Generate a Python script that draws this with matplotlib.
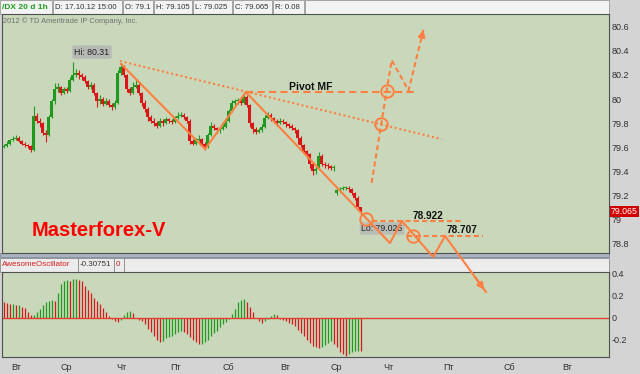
import matplotlib
matplotlib.use('Agg')
import matplotlib.pyplot as plt
from matplotlib.patches import Rectangle
import numpy as np

plt.rcParams['font.family'] = ['Liberation Sans', 'DejaVu Sans']

# ---- hourly candles (bar index = position in list) ----
first_open = 79.60
gap_opens = {111: 79.22}
closes = [
    79.61, 79.63, 79.66, 79.67, 79.68, 79.65, 79.63, 79.62, 79.61, 79.58,
    79.86, 79.82, 79.80, 79.72, 79.70, 79.85, 79.98, 80.08, 80.10, 80.05,
    80.08, 80.07, 80.16, 80.20, 80.22, 80.20, 80.18, 80.15, 80.10, 80.12,
    80.05, 79.98, 80.00, 79.96, 79.98, 79.95, 79.93, 79.97, 80.22, 80.27,
    80.20, 80.08, 80.05, 80.10, 80.12, 80.05, 79.97, 79.92, 79.85, 79.82,
    79.80, 79.78, 79.82, 79.80, 79.83, 79.82, 79.81, 79.84, 79.86, 79.87,
    79.85, 79.82, 79.65, 79.63, 79.66, 79.67, 79.63, 79.60, 79.70, 79.78,
    79.76, 79.74, 79.75, 79.77, 79.82, 79.90, 79.97, 79.98, 79.99, 79.97,
    80.02, 79.95, 79.80, 79.75, 79.73, 79.74, 79.77, 79.84, 79.87, 79.84,
    79.82, 79.80, 79.82, 79.81, 79.79, 79.78, 79.76, 79.74, 79.68, 79.62,
    79.57, 79.54, 79.46, 79.40, 79.42, 79.53, 79.46, 79.45, 79.44, 79.43,
    79.43, 79.24, 79.25, 79.26, 79.26, 79.25, 79.22, 79.18, 79.10, 79.065,
]
highs = [
    79.63, 79.65, 79.67, 79.69, 79.70, 79.69, 79.66, 79.64, 79.63, 79.62,
    79.94, 79.88, 79.84, 79.81, 79.74, 79.87, 80.00, 80.13, 80.13, 80.11,
    80.10, 80.10, 80.18, 80.31, 80.25, 80.24, 80.22, 80.20, 80.16, 80.14,
    80.13, 80.06, 80.03, 80.02, 80.01, 80.00, 79.97, 79.99, 80.24, 80.30,
    80.28, 80.21, 80.10, 80.14, 80.16, 80.14, 80.06, 79.99, 79.93, 79.87,
    79.84, 79.82, 79.84, 79.83, 79.85, 79.84, 79.83, 79.86, 79.89, 79.89,
    79.88, 79.86, 79.83, 79.67, 79.68, 79.70, 79.68, 79.64, 79.72, 79.81,
    79.79, 79.77, 79.77, 79.79, 79.84, 79.92, 79.99, 80.00, 80.01, 80.00,
    80.06, 80.03, 79.96, 79.81, 79.77, 79.76, 79.79, 79.87, 79.89, 79.88,
    79.85, 79.83, 79.84, 79.83, 79.82, 79.80, 79.79, 79.77, 79.75, 79.69,
    79.63, 79.58, 79.55, 79.47, 79.44, 79.56, 79.54, 79.48, 79.47, 79.45,
    79.45, 79.27, 79.27, 79.28, 79.28, 79.28, 79.26, 79.23, 79.19, 79.105,
]
lows = [
    79.59, 79.60, 79.62, 79.65, 79.66, 79.64, 79.62, 79.60, 79.59, 79.56,
    79.57, 79.80, 79.77, 79.70, 79.64, 79.69, 79.84, 79.96, 80.06, 80.03,
    80.04, 80.05, 80.06, 80.15, 80.18, 80.17, 80.16, 80.13, 80.08, 80.08,
    80.03, 79.93, 79.96, 79.94, 79.95, 79.93, 79.91, 79.92, 79.96, 80.20,
    80.18, 80.06, 80.03, 80.04, 80.09, 80.03, 79.94, 79.89, 79.82, 79.80,
    79.78, 79.76, 79.77, 79.78, 79.79, 79.80, 79.79, 79.80, 79.83, 79.85,
    79.83, 79.80, 79.63, 79.62, 79.62, 79.65, 79.61, 79.58, 79.59, 79.69,
    79.74, 79.72, 79.72, 79.74, 79.76, 79.81, 79.89, 79.95, 79.96, 79.95,
    79.96, 79.93, 79.77, 79.72, 79.71, 79.72, 79.73, 79.76, 79.83, 79.82,
    79.80, 79.78, 79.79, 79.79, 79.77, 79.76, 79.74, 79.72, 79.63, 79.60,
    79.55, 79.51, 79.43, 79.37, 79.38, 79.41, 79.44, 79.43, 79.42, 79.41,
    79.40, 79.20, 79.23, 79.24, 79.24, 79.23, 79.20, 79.16, 79.10, 79.025,
]

# ---- Awesome Oscillator ----
ao = [
    0.14, 0.13, 0.12, 0.12, 0.11, 0.11, 0.10, 0.09, 0.05, 0.02,
    0.02, 0.05, 0.08, 0.11, 0.14, 0.15, 0.16, 0.15, 0.22, 0.30,
    0.33, 0.34, 0.33, 0.35, 0.35, 0.34, 0.33, 0.29, 0.25, 0.22,
    0.18, 0.15, 0.12, 0.09, 0.05, 0.01, -0.01, -0.03, -0.04, -0.02,
    0.02, 0.05, 0.06, 0.04, 0.00, -0.02, -0.03, -0.06, -0.10, -0.13,
    -0.17, -0.20, -0.22, -0.21, -0.19, -0.18, -0.17, -0.15, -0.13, -0.12,
    -0.13, -0.15, -0.18, -0.20, -0.22, -0.24, -0.24, -0.22, -0.20, -0.17,
    -0.14, -0.12, -0.09, -0.06, -0.04, -0.01, 0.03, 0.08, 0.14, 0.16,
    0.17, 0.14, 0.10, 0.05, 0.00, -0.03, -0.05, -0.03, -0.01, 0.01,
    0.03, 0.02, -0.01, -0.02, -0.03, -0.05, -0.06, -0.08, -0.11, -0.14,
    -0.17, -0.20, -0.23, -0.26, -0.27, -0.28, -0.27, -0.25, -0.23, -0.21,
    -0.24, -0.27, -0.31, -0.33, -0.35, -0.33, -0.31, -0.30, -0.30, -0.30751,
]

day_pos = [4.2, 20.8, 39.2, 57.5, 74.8, 93.8, 110.8, 128.2, 148.5, 168.5, 187.8]
day_labels = ['Вт', 'Ср', 'Чт', 'Пт', 'Сб', 'Вт', 'Ср', 'Чт', 'Пт', 'Сб', 'Вт']

price_ticks = [78.8, 79.0, 79.2, 79.4, 79.6, 79.8, 80.0, 80.2, 80.4, 80.6]
price_labels = ['78.8', '79', '79.2', '79.4', '79.6', '79.8', '80', '80.2', '80.4', '80.6']
osc_ticks = [-0.2, 0, 0.2, 0.4]
osc_labels = ['-0.2', '0', '0.2', '0.4']

# ---- hand drawn analysis (bar index, price) ----
trend_x = [39.2, 67.2, 80.8, 128.8, 132.8, 143.2, 147.2, 160.8]
trend_y = [80.291, 79.584, 80.058, 78.803, 78.986, 78.687, 78.861, 78.396]
dot_x = [38.8, 146.0]
dot_y = [80.316, 79.667]
pivot_x = [80.8, 137.2]
pivot_y = [80.058, 80.058]
future_x = [122.7, 129.4, 135.0, 140.2]
future_y = [79.302, 80.324, 80.071, 80.598]
lvl1_x = [122.7, 152.7]
lvl1_y = [78.982, 78.982]
lvl2_x = [134.4, 159.8]
lvl2_y = [78.861, 78.861]
circle_x = [120.7, 136.5, 125.8, 127.7]
circle_y = [79.0025, 78.861, 79.792, 80.064]

header = [('/DX 20 d 1h', 0, 52), ('D: 17.10.12 15:00', 53, 122), ('O: 79.1', 123, 153),
          ('H: 79.105', 154, 192), ('L: 79.025', 193, 232), ('C: 79.065', 233, 272),
          ('R: 0.08', 273, 304), ('', 305, 609)]
osc_header = [('AwesomeOscillator', 0, 78), ('-0.30751', 78, 114), ('0', 114, 124), ('', 124, 609)]

W, H = 640, 374
ORANGE = '#ff8040'
UP, DOWN = '#1f9a1f', '#d81818'
PLOT_BG = '#c9d8bb'


def rect(x0, y0, x1, y1):
    return [x0 / W, 1 - y1 / H, (x1 - x0) / W, (y1 - y0) / H]


fig = plt.figure(figsize=(6.4, 3.74), dpi=100, facecolor='#d4d4d4')

# chrome (header bars, splitter) in pixel coords
chrome = fig.add_axes([0, 0, 1, 1], zorder=0)
chrome.set_xlim(0, W)
chrome.set_ylim(H, 0)
chrome.axis('off')
for i, (txt, x0, x1) in enumerate(header):
    chrome.add_patch(Rectangle((x0, 0), x1 - x0, 13.5, fc='#f3f3f3', ec='#9a9a9a', lw=0.6))
    chrome.text(x0 + 2, 7, txt, fontsize=6.0 if i == 0 else 5.6, va='center',
                color='#1e9e1e' if i == 0 else '#333333',
                fontweight='bold' if i == 0 else 'normal')
chrome.add_patch(Rectangle((0, 253), 609, 4, fc='#aab4c0', ec='#7e8c9c', lw=0.6))
for i, (txt, x0, x1) in enumerate(osc_header):
    chrome.add_patch(Rectangle((x0, 257.5), x1 - x0, 14.5, fc='#ececec', ec='#8a8a8a', lw=0.6))
    chrome.text(x0 + 2, 265, txt, fontsize=5.8, va='center',
                color='#333333' if i == 1 else '#d42020')

# main price panel
ax = fig.add_axes(rect(2, 14, 609, 253), zorder=3)
ax.set_facecolor(PLOT_BG)
x = np.arange(len(closes))
c = np.array(closes)
o = np.array([first_open] + closes[:-1])
for k, v in gap_opens.items():
    o[k] = v
cols = [UP if cc >= oo else DOWN for cc, oo in zip(c, o)]
ax.vlines(x, lows, highs, colors=cols, lw=0.8)
ax.bar(x, np.maximum(np.abs(c - o), 0.006), bottom=np.minimum(o, c), width=0.75, color=cols, lw=0)

ax.set_xlim(-0.5, 201.83)
ax.set_ylim(78.72, 80.707)
ax.set_xticks([])
ax.yaxis.tick_right()
ax.set_yticks(price_ticks)
ax.set_yticklabels(price_labels)
ax.tick_params(axis='y', length=0, pad=2, labelsize=6.5, labelcolor='#303030')
for s in ax.spines.values():
    s.set_color('#505050')
    s.set_linewidth(0.8)

ax.plot(dot_x, dot_y, color=ORANGE, lw=1.5, ls=(0, (1, 1.3)))
ax.plot(trend_x, trend_y, color=ORANGE, lw=1.5, clip_on=False, zorder=6)
ax.annotate('', xy=(trend_x[-1], trend_y[-1]),
            xytext=(trend_x[-1] - (trend_x[-1] - trend_x[-2]) * 0.3,
                    trend_y[-1] - (trend_y[-1] - trend_y[-2]) * 0.3),
            arrowprops=dict(arrowstyle='-|>', color=ORANGE, lw=1.5, mutation_scale=10),
            annotation_clip=False, zorder=6)
ax.plot(pivot_x, pivot_y, color=ORANGE, lw=1.5, ls=(0, (3.5, 2)))
ax.plot(future_x, future_y, color=ORANGE, lw=1.5, ls=(0, (2.5, 1.5)))
ax.annotate('', xy=(future_x[-1], future_y[-1]),
            xytext=(future_x[-1] - (future_x[-1] - future_x[-2]) * 0.2,
                    future_y[-1] - (future_y[-1] - future_y[-2]) * 0.2),
            arrowprops=dict(arrowstyle='-|>', color=ORANGE, lw=1.5, mutation_scale=10))
ax.plot(lvl1_x, lvl1_y, color=ORANGE, lw=1.5, ls=(0, (2.5, 1.5)))
ax.plot(lvl2_x, lvl2_y, color=ORANGE, lw=1.5, ls=(0, (2.5, 1.5)))

ax.text(29.5, 80.39, 'Hi: 80.31', ha='center', va='center', fontsize=6.3, color='#222222',
        bbox=dict(boxstyle='round,pad=0.25', fc='#b4b4b4', ec='none', alpha=0.85))
ax.text(126.2, 78.924, 'Lo: 79.025', ha='center', va='center', fontsize=6.3, color='#222222',
        bbox=dict(boxstyle='round,pad=0.2', fc='#b4b4b4', ec='none', alpha=0.75), zorder=4)
ax.plot(circle_x, circle_y, 'o', mfc='none', mec=ORANGE, mew=1.4, ms=9, zorder=5)

ax.text(102.5, 80.096, 'Pivot MF', ha='center', va='center', fontsize=7.5, fontweight='bold', color='#111111')
ax.text(136.5, 78.99, '78.922', ha='left', va='bottom', fontsize=7.2, fontweight='bold', color='#111111')
ax.text(147.8, 78.87, '78.707', ha='left', va='bottom', fontsize=7.2, fontweight='bold', color='#111111')
ax.text(0.049, 0.072, 'Masterforex-V', transform=ax.transAxes, fontsize=14.5,
        fontweight='bold', color='#ff0000', va='baseline')
ax.text(0.002, 0.985, '2012 \u00a9 TD Ameritrade IP Company, Inc.', transform=ax.transAxes,
        fontsize=5.4, color='#707070', va='top')
ax.text(1.003, closes[-1], '79.065', transform=ax.get_yaxis_transform(), fontsize=6.3,
        color='white', va='center', ha='left', clip_on=False,
        bbox=dict(boxstyle='square,pad=0.15', fc='#d00000', ec='none'))

# oscillator panel
ax2 = fig.add_axes(rect(2, 272, 609, 357), zorder=2)
ax2.set_facecolor(PLOT_BG)
ao_cols = [DOWN] + [UP if ao[i] >= ao[i - 1] else DOWN for i in range(1, len(ao))]
ax2.vlines(np.arange(len(ao)), 0, ao, colors=ao_cols, lw=0.9)
ax2.axhline(0, color='#e04030', lw=1)
ax2.set_xlim(-0.5, 201.83)
ax2.set_ylim(-0.359, 0.4136)
ax2.yaxis.tick_right()
ax2.set_yticks(osc_ticks)
ax2.set_yticklabels(osc_labels)
ax2.set_xticks(day_pos)
ax2.set_xticklabels(day_labels)
ax2.tick_params(axis='y', length=0, pad=2, labelsize=6.5, labelcolor='#303030')
ax2.tick_params(axis='x', length=0, pad=4, labelsize=6.5, labelcolor='#303030')
for s in ax2.spines.values():
    s.set_color('#505050')
    s.set_linewidth(0.8)

fig.savefig('out.png', dpi=100, facecolor=fig.get_facecolor())
